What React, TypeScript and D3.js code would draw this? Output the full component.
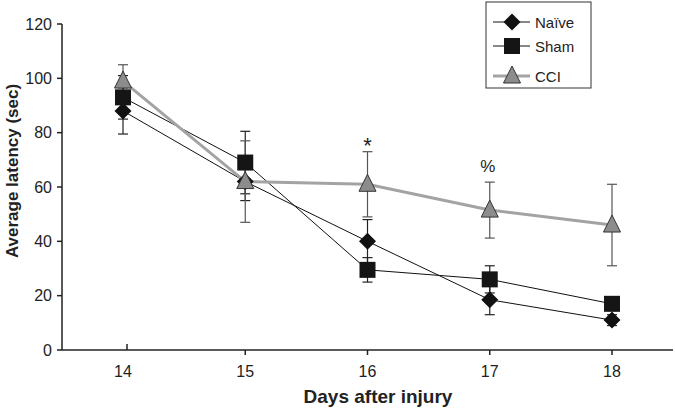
import React from "react";
import * as d3 from "d3";

const days = [14, 15, 16, 17, 18];
const naiveMean = [88, 62, 40, 18.5, 11];
const naiveErr = [8.5, 7, 8, 5.5, 2];
const shamMean = [93, 69, 29.5, 26, 17];
const shamErr = [8, 11.5, 4.5, 5, 2.5];
const cciMean = [99, 62, 61, 51.5, 46];
const cciErr = [6, 15, 12, 10.3, 15];
const yTicks = [0, 20, 40, 60, 80, 100, 120];
const seriesNames = ["Naïve", "Sham", "CCI"];
const annotations = [
  { day: 16, value: 72.5, text: "*", size: 22 },
  { day: 17, value: 65.5, text: "%", size: 17 },
];

const FONT = "'Liberation Sans', Arial, Helvetica, sans-serif";

export default function App() {
  const x = d3.scaleLinear().domain([14, 18]).range([123, 612]);
  const y = d3.scaleLinear().domain([0, 120]).range([350, 24]);
  const line = d3
    .line<number>()
    .x((_, i) => x(days[i]))
    .y((d) => y(d));

  const series = [
    { name: seriesNames[0], mean: naiveMean, err: naiveErr, color: "#111", width: 1, errColor: "#222", shape: "diamond" },
    { name: seriesNames[1], mean: shamMean, err: shamErr, color: "#111", width: 1, errColor: "#222", shape: "square" },
    { name: seriesNames[2], mean: cciMean, err: cciErr, color: "#a3a3a3", width: 3, errColor: "#555", shape: "triangle" },
  ];

  const marker = (shape: string, cx: number, cy: number, key: string) => {
    if (shape === "diamond") {
      const r = 8.5;
      return (
        <path key={key} d={`M${cx},${cy - r}L${cx + r},${cy}L${cx},${cy + r}L${cx - r},${cy}Z`} fill="#111" />
      );
    }
    if (shape === "square") {
      const s = 8;
      return <rect key={key} x={cx - s} y={cy - s} width={2 * s} height={2 * s} fill="#151515" />;
    }
    const w = 8.5;
    return (
      <path
        key={key}
        d={`M${cx},${cy - 10}L${cx + w},${cy + 7}L${cx - w},${cy + 7}Z`}
        fill="#8c8c8c"
        stroke="#333"
        strokeWidth={1}
      />
    );
  };

  return (
    <svg width={675} height={408} style={{ position: "absolute", left: 0, top: 0, background: "#fff" }}>
      {/* axes */}
      <line x1={62} x2={62} y1={y(120)} y2={y(0)} stroke="#222" strokeWidth={1.5} />
      <line x1={62} x2={673} y1={y(0)} y2={y(0)} stroke="#222" strokeWidth={1.5} />
      {yTicks.map((t) => (
        <g key={"yt" + t}>
          <line x1={57} x2={62} y1={y(t)} y2={y(t)} stroke="#222" strokeWidth={1.5} />
          <text x={52} y={y(t)} dy="0.36em" textAnchor="end" fontSize={16} fontFamily={FONT} fill="#222">
            {t}
          </text>
        </g>
      ))}
      {days.map((d, i) => (
        <g key={"xt" + d}>
          <line
            x1={x(d) + (i === 0 ? 4 : 0)}
            x2={x(d) + (i === 0 ? 4 : 0)}
            y1={y(0)}
            y2={i === 0 ? y(0) - 6 : y(0) + 5}
            stroke="#222"
            strokeWidth={1.5}
          />
          <text x={x(d)} y={377} textAnchor="middle" fontSize={16} fontFamily={FONT} fill="#222">
            {d}
          </text>
        </g>
      ))}
      <text
        transform={`translate(18,171) rotate(-90)`}
        textAnchor="middle"
        fontSize={17}
        fontWeight="bold"
        fontFamily={FONT}
        fill="#222"
      >
        Average latency (sec)
      </text>
      <text x={378} y={403} textAnchor="middle" fontSize={19} fontWeight="bold" fontFamily={FONT} fill="#222">
        Days after injury
      </text>

      {/* error bars */}
      {series.map((s) =>
        s.mean.map((m, i) => {
          const cx = x(days[i]);
          const top = y(m + s.err[i]);
          const bot = y(m - s.err[i]);
          return (
            <g key={s.name + "e" + i} stroke={s.errColor} strokeWidth={1.2}>
              <line x1={cx} x2={cx} y1={top} y2={bot} />
              <line x1={cx - 5} x2={cx + 5} y1={top} y2={top} />
              <line x1={cx - 5} x2={cx + 5} y1={bot} y2={bot} />
            </g>
          );
        })
      )}

      {/* lines */}
      {series.map((s) => (
        <path key={s.name + "l"} d={line(s.mean) || ""} fill="none" stroke={s.color} strokeWidth={s.width} />
      ))}

      {/* markers */}
      {series.map((s) => s.mean.map((m, i) => marker(s.shape, x(days[i]), y(m), s.name + "m" + i)))}

      {/* annotations */}
      {annotations.map((a) => (
        <text
          key={a.text}
          x={x(a.day) - (a.text === "%" ? 2 : 0)}
          y={y(a.value)}
          textAnchor="middle"
          fontSize={a.size}
          fontFamily={FONT}
          fill="#222"
        >
          {a.text}
        </text>
      ))}

      {/* legend */}
      <rect x={486} y={2} width={105} height={86} fill="#fff" stroke="#333" strokeWidth={1} />
      {series.map((s, i) => {
        const ly = [22, 46, 76][i];
        return (
          <g key={s.name + "lg"}>
            <line x1={493} x2={530} y1={ly} y2={ly} stroke={s.color} strokeWidth={s.width} />
            {marker(s.shape, 512, ly, s.name + "lm")}
            <text x={535} y={ly + 5.5} fontSize={15} fontFamily={FONT} fill="#222">
              {s.name}
            </text>
          </g>
        );
      })}
    </svg>
  );
}
